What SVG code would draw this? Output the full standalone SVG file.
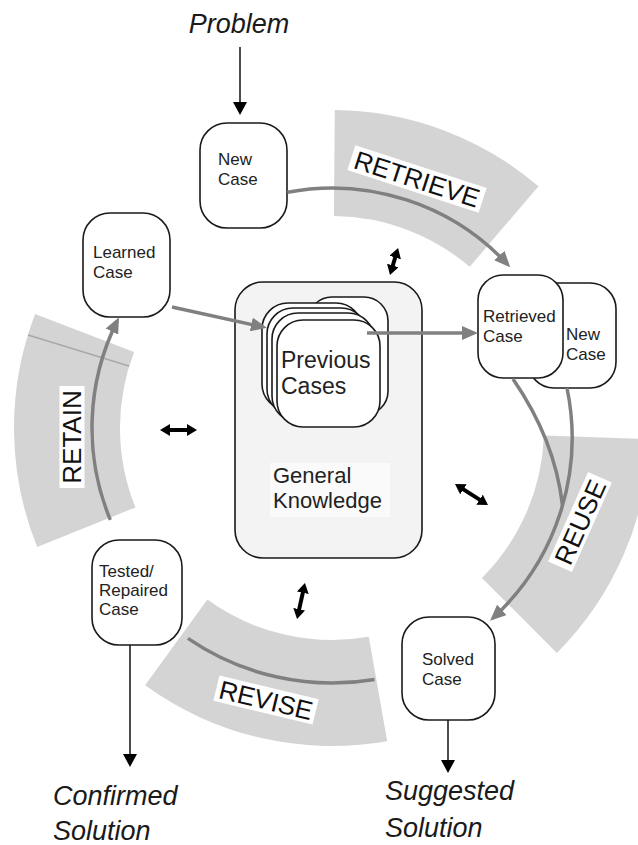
<svg xmlns="http://www.w3.org/2000/svg" width="638" height="845" viewBox="0 0 638 845">
<style>
.band{fill:#d4d4d4}
.sep{stroke:#a8a8a8;stroke-width:1.5;fill:none}
.node{fill:#fff;stroke:#1a1a1a;stroke-width:1.6}
.gk{fill:#f3f3f3;stroke:#1a1a1a;stroke-width:1.6}
.nt{font-family:"Liberation Sans",Arial,sans-serif;font-size:17px;fill:#222}
.big{font-family:"Liberation Sans",Arial,sans-serif;font-size:23px;fill:#222}
.lab{font-family:"Liberation Sans",Arial,sans-serif;font-size:26px;fill:#111;text-anchor:middle}
.io{font-family:"Liberation Sans",Arial,sans-serif;font-size:27px;font-style:italic;fill:#1a1a1a}
.flow{fill:none;stroke:#808080;stroke-width:3.5}
.thin{fill:none;stroke:#111;stroke-width:1.5}
.dbl{fill:none;stroke:#000;stroke-width:4}
.lbox{fill:#fff}
</style>
<defs>
<marker id="ga" markerUnits="userSpaceOnUse" markerWidth="16" markerHeight="14" refX="12" refY="7" orient="auto"><path d="M0,0 L16,7 L0,14 z" fill="#808080"/></marker>
<marker id="ba" markerUnits="userSpaceOnUse" markerWidth="13" markerHeight="14" refX="11" refY="7" orient="auto"><path d="M0,0 L13,7 L0,14 z" fill="#000"/></marker>
<marker id="da" markerUnits="userSpaceOnUse" markerWidth="10" markerHeight="12" refX="6" refY="6" orient="auto-start-reverse"><path d="M0,0 L10,6 L0,12 z" fill="#000"/></marker>
</defs>

<g id="bands">
<path class="band" d="M334.8,110 A318,318 0 0 1 538.5,186.2 L469.7,266.8 A212,212 0 0 0 333.9,216 Z"/>
<path class="band" d="M649.8,439.1 A318,318 0 0 1 556.9,652.9 L481.9,577.9 A212,212 0 0 0 543.9,435.4 Z"/>
<path class="band" d="M387.2,741.2 A318,318 0 0 1 145.1,685.3 L207.4,599.5 A212,212 0 0 0 368.8,636.8 Z"/>
<path class="band" d="M37.2,547.1 A318,318 0 0 1 35.1,314 L134.1,352 A212,212 0 0 0 135.4,507.4 Z"/>
<path class="sep" d="M28,335 L129,366"/>
</g>

<g id="band-labels">
<g transform="translate(417,179) rotate(18)"><rect class="lbox" x="-69" y="-13" width="138" height="26"/><text class="lab" x="0" y="9.3">RETRIEVE</text></g>
<g transform="translate(580,522) rotate(-66)"><rect class="lbox" x="-49" y="-13" width="98" height="26"/><text class="lab" x="0" y="9.3">REUSE</text></g>
<g transform="translate(266,700) rotate(13.5)"><rect class="lbox" x="-51" y="-13" width="102" height="26"/><text class="lab" x="0" y="9.3">REVISE</text></g>
<g transform="translate(72,437) rotate(-90)"><rect class="lbox" x="-51" y="-12.5" width="102" height="25"/><text class="lab" x="0" y="9.3">RETAIN</text></g>
</g>

<g id="general-knowledge">
<rect class="gk" x="235" y="282" width="187" height="276" rx="28"/>
<rect fill="#fafafa" x="270" y="463" width="120" height="54"/>
<text class="big" x="273" y="483" style="font-size:22px">General</text>
<text class="big" x="273" y="508" style="font-size:22px">Knowledge</text>
</g>

<g id="previous-cases">
<rect class="node" x="308" y="297" width="80" height="118" rx="24"/>
<rect class="node" x="262" y="303" width="100" height="107" rx="26"/>
<rect class="node" x="267" y="308" width="100" height="107" rx="26"/>
<rect class="node" x="272" y="313" width="102" height="109" rx="26"/>
<rect class="node" x="277" y="320" width="103" height="107" rx="26"/>
<text class="big" x="281" y="368">Previous</text>
<text class="big" x="281" y="394">Cases</text>
</g>

<g id="new-case">
<rect class="node" x="200" y="123" width="87" height="105" rx="27"/>
<text class="nt" x="218" y="165">New</text>
<text class="nt" x="218" y="185">Case</text>
</g>

<g id="learned-case">
<rect class="node" x="83" y="213" width="87" height="104" rx="27"/>
<text class="nt" x="93" y="258">Learned</text>
<text class="nt" x="93" y="278">Case</text>
</g>

<g id="new-case-copy">
<rect class="node" x="528" y="283" width="88" height="105" rx="26"/>
<text class="nt" x="566" y="340">New</text>
<text class="nt" x="566" y="360">Case</text>
</g>

<g id="retrieved-case">
<rect class="node" x="478" y="275" width="85" height="103" rx="25"/>
<text class="nt" x="483" y="322">Retrieved</text>
<text class="nt" x="483" y="342">Case</text>
</g>

<g id="solved-case">
<rect class="node" x="402" y="617" width="93" height="103" rx="27"/>
<text class="nt" x="422" y="665">Solved</text>
<text class="nt" x="422" y="685">Case</text>
</g>

<g id="tested-case">
<rect class="node" x="92" y="540" width="90" height="105" rx="27"/>
<text class="nt" x="99" y="577">Tested/</text>
<text class="nt" x="99" y="596">Repaired</text>
<text class="nt" x="99" y="615">Case</text>
</g>

<g id="problem"><text class="io" x="239" y="33" text-anchor="middle">Problem</text></g>
<g id="suggested-solution"><text class="io" x="385" y="800">Suggested</text><text class="io" x="385" y="837">Solution</text></g>
<g id="confirmed-solution"><text class="io" x="53" y="805">Confirmed</text><text class="io" x="53" y="840">Solution</text></g>

<g id="connectors">
<path class="flow" d="M287.4,192.2 A240,240 0 0 1 507.5,264.3" marker-end="url(#ga)"/>
<path class="flow" d="M513,379 Q555,440 562.4,505"/>
<path class="flow" d="M567,388 A245,245 0 0 1 493,618" marker-end="url(#ga)"/>
<path class="flow" d="M374.5,679.4 A255,255 0 0 1 187.9,638.4"/>
<path class="flow" d="M110.3,519.8 A240,240 0 0 1 117.2,320.9" marker-end="url(#ga)"/>
<path class="flow" d="M172,307 L263,327" marker-end="url(#ga)"/>
<path class="flow" d="M367,333 L474,333" marker-end="url(#ga)"/>
<path class="thin" d="M240,47 L240,113" marker-end="url(#ba)"/>
<path class="thin" d="M448,720 L448,771" marker-end="url(#ba)"/>
<path class="thin" d="M130,645 L130,765" marker-end="url(#ba)"/>
<path class="dbl" d="M396.9,251.8 L391.1,271.2" marker-start="url(#da)" marker-end="url(#da)"/>
<path class="dbl" d="M164,430 L193,430" marker-start="url(#da)" marker-end="url(#da)"/>
<path class="dbl" d="M458.4,486.1 L484.6,502.9" marker-start="url(#da)" marker-end="url(#da)"/>
<path class="dbl" d="M304.1,586.9 L297.9,615.1" marker-start="url(#da)" marker-end="url(#da)"/>
</g>
</svg>
